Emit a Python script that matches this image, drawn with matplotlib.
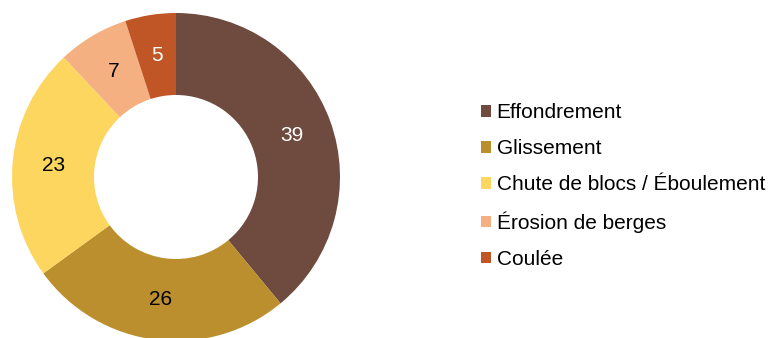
import numpy as np
import matplotlib.pyplot as plt
from matplotlib.patches import Patch

plt.rcParams['font.family'] = ['Liberation Sans', 'DejaVu Sans']

categories = ['Effondrement', 'Glissement', 'Chute de blocs / Éboulement',
              'Érosion de berges', 'Coulée']
values = [39, 26, 23, 7, 5]
colors = ['#6F4A3E', '#BB8F2D', '#FDD660', '#F4B080', '#C05525']
label_colors = ['white', 'black', 'black', 'black', 'white']

W, H = 771, 338
fig = plt.figure(figsize=(W / 100, H / 100), dpi=100)

# pie axes: centre (176, 177) px, outer radius 164 px
cx, cy, r = 176, 177, 164
ax = fig.add_axes([(cx - r) / W, (H - cy - r) / H, 2 * r / W, 2 * r / H])
wedges, texts = ax.pie(values, colors=colors, startangle=90, counterclock=False,
                       radius=1.0, wedgeprops=dict(width=0.5, edgecolor='none'))
ax.set_xlim(-1, 1)
ax.set_ylim(-1, 1)
ax.set_aspect('equal')
ax.axis('off')

# value labels in the middle of the ring
mid_r = 0.75
for w, v, c in zip(wedges, values, label_colors):
    ang = np.deg2rad((w.theta1 + w.theta2) / 2)
    ax.text(mid_r * np.cos(ang), mid_r * np.sin(ang), str(v), color=c,
            fontsize=15, ha='center', va='center')

handles = [Patch(facecolor=c, edgecolor='none') for c in colors]
fig.legend(handles, categories, loc='center left',
           bbox_to_anchor=(481 / W, (H - 186) / H), frameon=False,
           fontsize=15, handlelength=0.5, handleheight=0.5,
           handletextpad=0.25, labelspacing=0.82, borderpad=0, borderaxespad=0)

fig.savefig('out.png', dpi=100)
